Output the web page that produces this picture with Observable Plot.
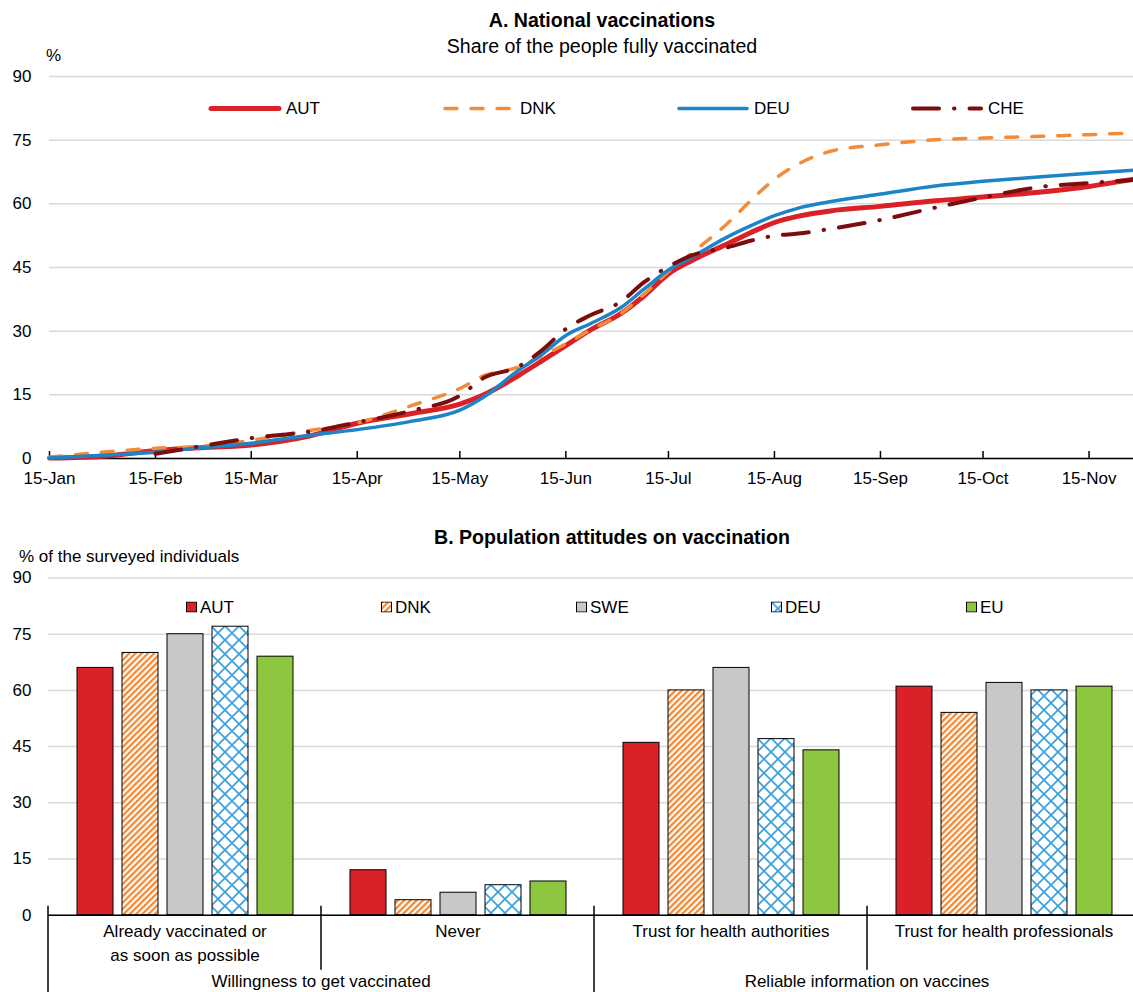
<!DOCTYPE html>
<html>
<head>
<meta charset="utf-8">
<script src="https://cdn.jsdelivr.net/npm/d3@7"></script>
<script src="https://cdn.jsdelivr.net/npm/@observablehq/plot@0.6"></script>
<style>
html,body{margin:0;padding:0;background:#fff;overflow:hidden;}
body{font-family:"Liberation Sans",Arial,Helvetica,sans-serif;color:#000;}
#wrap{position:relative;width:1133px;height:992px;overflow:hidden;}
.t{position:absolute;white-space:nowrap;line-height:1;}
.c{transform:translate(-50%,-50%);}
.l{transform:translateY(-50%);}
#top{position:absolute;left:0;top:0;width:1133px;}
#bot{position:absolute;left:0;top:500px;width:1140px;}
#top svg,#bot svg{max-width:none !important;}
.leg{position:absolute;display:flex;align-items:center;font-size:17px;line-height:1;transform:translateY(-50%);white-space:nowrap;}
</style>
</head>
<body>
<div id="wrap">
  <svg width="0" height="0" style="position:absolute;left:0;top:0">
    <defs>
      <pattern id="dnkHatch" patternUnits="userSpaceOnUse" width="4.4" height="4.4" patternTransform="rotate(45)">
        <rect width="4.4" height="4.4" fill="#fff"/>
        <rect width="2.3" height="4.4" fill="#F58A34"/>
      </pattern>
      <pattern id="deuCross" patternUnits="userSpaceOnUse" width="14" height="14">
        <rect width="14" height="14" fill="#fff"/>
        <path d="M-1,-1L15,15M15,-1L-1,15" stroke="#3FA2E0" stroke-width="1.8" fill="none"/>
      </pattern>
    </defs>
  </svg>
  <div id="top"></div>
  <div id="bot"></div>
  <div class="t c" style="left:602px;top:21px;font-size:19.6px;font-weight:bold">A. National vaccinations</div>
  <div class="t c" style="left:602px;top:47px;font-size:19.6px">Share of the people fully vaccinated</div>
  <div class="t l" style="left:46px;top:55px;font-size:17px">%</div>
  <div class="t c" style="left:612px;top:538px;font-size:19.6px;font-weight:bold">B. Population attitudes on vaccination</div>
  <div class="t l" style="left:19px;top:556px;font-size:17px">% of the surveyed individuals</div>
  <div id="legA"></div>
  <div id="legB"></div>
</div>
<script>
// ---------- Panel A data ----------
const datesA = ["2021-01-15","2021-02-01","2021-02-15","2021-03-01","2021-03-15","2021-04-01","2021-04-15",
  "2021-05-01","2021-05-15","2021-05-22","2021-06-01","2021-06-08","2021-06-15","2021-06-22","2021-07-01",
  "2021-07-08","2021-07-15","2021-07-22","2021-08-01","2021-08-08","2021-08-15","2021-08-22","2021-09-01",
  "2021-09-15","2021-10-01","2021-10-15","2021-11-01","2021-11-15","2021-11-28"];
const autA = [0.1,0.6,1.9,2.6,3.2,5.3,8.3,10.6,12.8,15.0,19.5,23.0,26.6,30.2,34.1,38.4,43.5,46.7,50.5,53.2,55.6,57.1,58.4,59.4,60.7,61.6,62.8,64.1,65.8];
const dnkA = [0.3,1.6,2.4,2.9,4.3,6.6,8.4,12.5,16.5,19.5,21.5,24.2,27.0,30.2,34.1,38.8,44.0,48.5,55.2,60.7,65.8,69.4,72.5,73.9,75.1,75.5,75.9,76.3,76.7];
const deuA = [0.1,0.8,1.5,2.6,3.6,5.5,6.8,8.8,11.4,14.5,20.7,24.5,29.0,31.7,35.5,40.0,44.4,47.5,52.1,54.8,57.2,59.0,60.6,62.3,64.2,65.3,66.4,67.2,67.9];
const cheA = [null,null,1.1,3.0,4.8,6.3,8.5,11.3,14.8,19.0,21.6,25.5,30.5,33.7,36.9,41.6,45.2,47.9,49.7,51.3,52.5,53.0,54.2,56.2,59.1,61.5,64.0,64.9,65.6];
const seriesA = ["AUT","DNK","DEU","CHE"];
const xTickDates = ["2021-01-15","2021-02-15","2021-03-15","2021-04-15","2021-05-15","2021-06-15",
  "2021-07-15","2021-08-15","2021-09-15","2021-10-15","2021-11-15"];
const yTicks = [0,15,30,45,60,75,90];

// ---------- Panel B data ----------
const catsB = ["Already vaccinated or\nas soon as possible","Never","Trust for health authorities","Trust for health professionals"];
const superB = ["Willingness to get vaccinated","Reliable information on vaccines"];
const superOfB = [0,0,1,1];
const seriesB = ["AUT","DNK","SWE","DEU","EU"];
const autB = [66,12,46,61];
const dnkB = [70,4,60,54];
const sweB = [75,6,66,62];
const deuB = [77,8,47,60];
const euB  = [69,9,44,61];

// ---------- styles ----------
const styleA = {
  AUT:{stroke:"#DA2128",width:5,dash:null},
  DNK:{stroke:"#F28C38",width:3.5,dash:"12,14"},
  DEU:{stroke:"#1B85C7",width:3.5,dash:null},
  CHE:{stroke:"#7B0D0D",width:4,dash:"26,15,0.5,15"}
};
const fillB = ["#DA2128","url(#dnkHatch)","#C8C8C8","url(#deuCross)","#8DC63F"];
const font = "'Liberation Sans', Arial, sans-serif";

// ---------- Panel A ----------
const valsA = {AUT:autA, DNK:dnkA, DEU:deuA, CHE:cheA};
const rowsA = seriesA.flatMap(s => datesA.map((d,i) => ({series:s, date:new Date(d), value:valsA[s][i]})))
  .filter(r => r.value != null);
const ticksA = xTickDates.map(d => new Date(d));
const fmtA = d3.utcFormat("%d-%b");

const topPlot = Plot.plot({
  width: 1133, height: 488,
  marginTop: 76, marginBottom: 30, marginLeft: 49, marginRight: 0,
  style: {fontFamily: font, fontSize: "17px", color: "#000", background: "transparent", overflow: "visible", maxWidth: "none"},
  x: {type: "utc", domain: [new Date("2021-01-15"), new Date("2021-11-28")]},
  y: {domain: [0, 90]},
  marks: [
    Plot.gridY(yTicks, {stroke: "#D9D9D9", strokeOpacity: 1, strokeWidth: 1.5}),
    Plot.axisY(yTicks, {tickSize: 0, tickPadding: 18, label: null, fill: "#000"}),
    Plot.ruleY([0], {stroke: "#000", strokeWidth: 1.5}),
    Plot.tickX(ticksA, {x: d => d, stroke: "#000", strokeWidth: 1.5, insetTop: 375}),
    Plot.axisX(ticksA, {tickSize: 0, tickPadding: 13, tickFormat: fmtA, label: null, fill: "#000"}),
    ...seriesA.map(s => Plot.line(rowsA.filter(r => r.series === s), {
      x: "date", y: "value", stroke: styleA[s].stroke, strokeWidth: styleA[s].width,
      strokeDasharray: styleA[s].dash, strokeLinecap: "round", curve: "monotone-x"
    }))
  ]
});
document.getElementById("top").append(topPlot);

// Legend A
const legA = document.getElementById("legA");
seriesA.forEach((s,i) => {
  const st = styleA[s];
  const item = document.createElement("div");
  item.className = "leg";
  item.style.left = (209 + i*234) + "px";
  item.style.top = "108px";
  item.innerHTML = `<svg width="72" height="10" style="margin-right:5px;overflow:visible"><line x1="2" y1="5" x2="70" y2="5" stroke="${st.stroke}" stroke-width="${st.width}" stroke-linecap="round" ${st.dash ? `stroke-dasharray="${st.dash}"` : ""}/></svg><span>${s}</span>`;
  legA.append(item);
});

// ---------- Panel B ----------
const valsB = {AUT:autB, DNK:dnkB, SWE:sweB, DEU:deuB, EU:euB};
const rowsB = catsB.flatMap((c,ci) => seriesB.map(s => ({cat:c, series:s, value:valsB[s][ci]})));

const botPlot = Plot.plot({
  width: 1140, height: 492,
  marginTop: 77.5, marginBottom: 77.3, marginLeft: 47, marginRight: 0,
  style: {fontFamily: font, fontSize: "17px", color: "#000", background: "transparent", overflow: "visible", maxWidth: "none"},
  fx: {domain: catsB, padding: 0, label: null},
  x: {domain: seriesB, paddingInner: 0.21, paddingOuter: 0.6, axis: null, label: null},
  y: {domain: [0, 90]},
  color: {domain: seriesB, range: fillB},
  marks: [
    Plot.gridY(yTicks, {stroke: "#D9D9D9", strokeOpacity: 1, strokeWidth: 1.5}),
    Plot.axisY(yTicks, {tickSize: 0, tickPadding: 17, label: null, fill: "#000"}),
    Plot.barY(rowsB, {fx: "cat", x: "series", y: "value", fill: "series", stroke: "#000", strokeWidth: 1}),
    Plot.ruleY([0], {stroke: "#000", strokeWidth: 1.5}),
    Plot.axisFx({anchor: "bottom", tickSize: 0, tickPadding: 5, label: null, lineHeight: 1.42, fill: "#000"})
  ]
});
document.getElementById("bot").append(botPlot);

// category separators and super-group labels, from the library's scales
{
  const fxS = botPlot.scale("fx");
  const bw = fxS.bandwidth;
  const y0 = botPlot.scale("y").apply(0);
  const svg = d3.select(botPlot);
  const g = svg.append("g");
  const bounds = catsB.map(c => fxS.apply(c)).concat([fxS.apply(catsB[catsB.length-1]) + bw]);
  bounds.forEach((x,i) => {
    const isLong = i === 0 || i === catsB.length || superOfB[i] !== superOfB[i-1];
    g.append("line").attr("x1", x).attr("x2", x).attr("y1", y0 - 9).attr("y2", isLong ? 492 : y0 + 55)
      .attr("stroke", "#000").attr("stroke-width", 1.5);
  });
  superB.forEach((lab,gi) => {
    const members = catsB.filter((c,ci) => superOfB[ci] === gi);
    const x = (fxS.apply(members[0]) + fxS.apply(members[members.length-1]) + bw) / 2;
    g.append("text").attr("x", x).attr("y", y0 + 66).attr("dy", "0.35em")
      .attr("text-anchor", "middle").attr("fill", "#000").attr("font-size", 17).text(lab);
  });
}

// Legend B
const legB = document.getElementById("legB");
seriesB.forEach((s,i) => {
  const item = document.createElement("div");
  item.className = "leg";
  item.style.left = (186 + i*195) + "px";
  item.style.top = "607px";
  item.innerHTML = `<svg width="11" height="11" style="margin-right:3px"><rect x="0.5" y="0.5" width="10" height="10" fill="${fillB[i]}" stroke="#000" stroke-width="1"/></svg><span>${s}</span>`;
  legB.append(item);
});
</script>
</body>
</html>
